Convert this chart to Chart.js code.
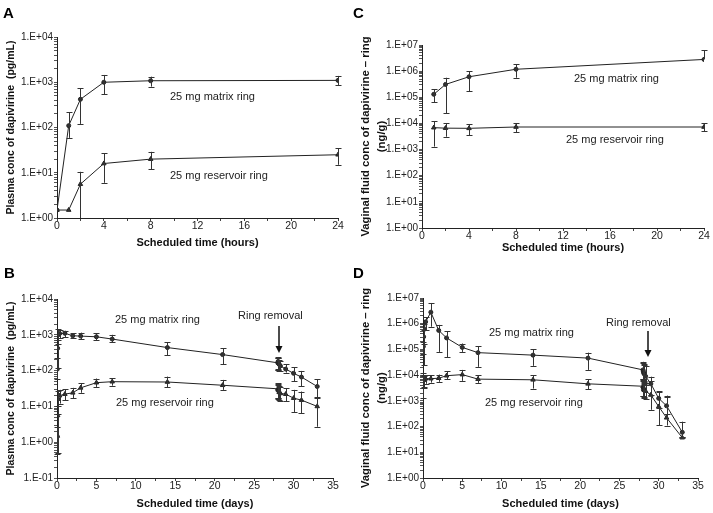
<!DOCTYPE html>
<html>
<head>
<meta charset="utf-8">
<script src="https://cdn.jsdelivr.net/npm/chart.js@4/dist/chart.umd.min.js"></script>
<style>
  body { margin: 0; background: #fff; width: 713px; height: 513px; position: relative; overflow: hidden; }
  canvas { position: absolute; }
  .letter { position: absolute; font: bold 15px 'Liberation Sans', Arial, sans-serif; color: #000; line-height: 15px; }
</style>
</head>
<body>
<canvas id="chartA" width="356" height="255" style="left:0;top:0"></canvas>
<canvas id="chartC" width="357" height="255" style="left:356px;top:0"></canvas>
<canvas id="chartB" width="356" height="258" style="left:0;top:255px"></canvas>
<canvas id="chartD" width="357" height="258" style="left:356px;top:255px"></canvas>
<div class="letter" style="left:3px;top:5px">A</div>
<div class="letter" style="left:353px;top:5px">C</div>
<div class="letter" style="left:4px;top:265px">B</div>
<div class="letter" style="left:353px;top:265px">D</div>
<script>
// ---- Data ----
// A: plasma, first 24 hours
const aHours        = [0, 1, 2, 4, 8, 24];
const aMatrix       = [1.5, 110, 420, 1000, 1080, 1100];
const aMatrixLo     = [1.5, 59, 120, 540, 800, 870];
const aMatrixHi     = [1.5, 220, 730, 1450, 1330, 1380];
const aReservoir    = [1.5, 1.5, 5.6, 16, 20, 25];
const aReservoirLo  = [1.5, 1.5, 0.5, 6, 12, 15];
const aReservoirHi  = [1.5, 1.5, 10.5, 27, 29, 35];

// C: vaginal fluid, first 24 hours
const cHours        = [1, 2, 4, 8, 24];
const cMatrix       = [1.3e5, 3.1e5, 6.1e5, 1.18e6, 2.8e6];
const cMatrixLo     = [6.4e4, 2.4e4, 1.7e5, 5.6e5, 2.8e6];
const cMatrixHi     = [2e5, 5.6e5, 1e6, 1.8e6, 6.4e6];
const cReservoir    = [6900, 6600, 6500, 7300, 7300];
const cReservoirLo  = [1300, 3100, 3600, 4600, 5100];
const cReservoirHi  = [12400, 10000, 9500, 10000, 10000];

// B: plasma, days
const bDays         = [0, 0.042, 0.083, 0.167, 0.333, 1, 2, 3, 5, 7, 14, 21, 28, 28.042, 28.083, 28.167, 28.333, 29, 30, 31, 33];
const bMatrix       = [1.5, 110, 420, 1000, 1080, 1100, 940, 920, 880, 760, 440, 280, 165, 180, 160, 150, 135, 110, 84, 66, 36];
const bMatrixLo     = [1.5, 59, 120, 540, 800, 850, 820, 750, 700, 620, 270, 150, 105, 110, 105, 100, 95, 88, 51, 36, 17];
const bMatrixHi     = [1.5, 220, 730, 1450, 1330, 1300, 1100, 1150, 1100, 1000, 620, 420, 230, 240, 220, 200, 180, 150, 125, 98, 58];
const bReservoir    = [1.5, 1.5, 5.6, 16, 20, 22, 24, 33, 46, 49, 48, 39, 31, 30, 28, 25, 23, 22, 17, 15, 10];
const bReservoirLo  = [0.46, 1.5, 0.5, 6, 12, 15, 17, 24, 35, 38, 34, 29, 17, 17, 16, 15, 14, 14, 7, 6.4, 2.7];
const bReservoirHi  = [2.6, 1.5, 10.5, 27, 29, 30, 33, 44, 60, 62, 68, 55, 44, 43, 40, 38, 34, 32, 29, 26, 18.6];

// D: vaginal fluid, days
const dDays         = [0.042, 0.083, 0.167, 0.333, 1, 2, 3, 5, 7, 14, 21, 28, 28.042, 28.083, 28.167, 28.333, 29, 30, 31, 33];
const dMatrix       = [1.3e5, 3.1e5, 6.1e5, 1.18e6, 2.8e6, 5.5e5, 2.8e5, 1.2e5, 7.5e4, 6e4, 4.6e4, 1.6e4, 1.4e4, 1.2e4, 1.1e4, 9e3, 4.6e3, 1250, 640, 60];
const dMatrixLo     = [6.4e4, 2.4e4, 1.7e5, 5.6e5, 7.6e5, 8e4, 5e4, 8e4, 2.1e4, 2.3e4, 1.6e4, 7e3, 6e3, 5e3, 4.5e3, 4e3, 1700, 540, 300, 40];
const dMatrixHi     = [2e5, 5.6e5, 1e6, 1.8e6, 6.4e6, 9e5, 5e5, 1.7e5, 1.3e5, 1e5, 7.5e4, 3.3e4, 3e4, 2.8e4, 2.5e4, 2.2e4, 8700, 2300, 1600, 155];
const dReservoir    = [6900, 6600, 6500, 7300, 7300, 7600, 9500, 10500, 7000, 6600, 4600, 3700, 3200, 2800, 2600, 2400, 1700, 600, 220, 37];
const dReservoirLo  = [1300, 3100, 3600, 4600, 5100, 5500, 7000, 6000, 5000, 3000, 2800, 1600, 1500, 1400, 1300, 1200, 450, 115, 110, 35];
const dReservoirHi  = [12400, 10000, 9500, 10000, 10000, 10500, 14000, 16000, 10000, 10000, 7000, 7000, 6500, 6000, 5500, 5000, 6000, 2400, 1400, 40];

// tick labels
const yLabelsPlasma  = ['1.E-01', '1.E+00', '1.E+01', '1.E+02', '1.E+03', '1.E+04'];
const yLabelsVaginal = ['1.E+00', '1.E+01', '1.E+02', '1.E+03', '1.E+04', '1.E+05', '1.E+06', '1.E+07'];

const FONT = "'Liberation Sans', Arial, sans-serif";
Chart.defaults.font.family = FONT;
const INK = '#222';

// ---- Plugins ----
const errorBars = {
  id: 'errorBars',
  afterDatasetsDraw(chart) {
    const { ctx, chartArea: a, scales: { x, y } } = chart;
    ctx.save();
    ctx.beginPath();
    ctx.rect(0, a.top - 1, chart.width, a.bottom - a.top + 1);
    ctx.clip();
    ctx.strokeStyle = '#333';
    ctx.lineWidth = 1;
    chart.data.datasets.forEach(ds => {
      ds.data.forEach((p, i) => {
        const lo = ds.errLo[i], hi = ds.errHi[i];
        if (lo === hi) return;
        const px = Math.round(x.getPixelForValue(p.x)) + 0.5;
        const y1 = y.getPixelForValue(lo), y2 = y.getPixelForValue(hi);
        ctx.beginPath();
        ctx.moveTo(px, y1); ctx.lineTo(px, y2);
        if (lo < p.y) { ctx.moveTo(px - 3, Math.round(y1) + 0.5); ctx.lineTo(px + 3, Math.round(y1) + 0.5); }
        if (hi > p.y) { ctx.moveTo(px - 3, Math.round(y2) + 0.5); ctx.lineTo(px + 3, Math.round(y2) + 0.5); }
        ctx.stroke();
      });
    });
    ctx.restore();
  }
};

const notes = {
  id: 'notes',
  afterDraw(chart, args, opts) {
    const ctx = chart.ctx;
    ctx.save();
    ctx.textBaseline = 'middle';
    ctx.textAlign = 'left';
    ctx.fillStyle = INK;
    ctx.font = '11px ' + FONT;
    (opts.items || []).forEach(n => ctx.fillText(n.t, n.x, n.y));
    if (opts.arrow) {
      const ar = opts.arrow;
      ctx.strokeStyle = '#111';
      ctx.fillStyle = '#111';
      ctx.lineWidth = 1.5;
      ctx.beginPath();
      ctx.moveTo(ar.x, ar.y1); ctx.lineTo(ar.x, ar.y2 - 6);
      ctx.stroke();
      ctx.beginPath();
      ctx.moveTo(ar.x - 3.5, ar.y2 - 7); ctx.lineTo(ar.x + 3.5, ar.y2 - 7); ctx.lineTo(ar.x, ar.y2);
      ctx.closePath();
      ctx.fill();
    }
    ctx.restore();
  }
};

function logTicks(min, max) {
  const out = [];
  const e0 = Math.round(Math.log10(min)), e1 = Math.round(Math.log10(max));
  for (let e = e0; e < e1; e++) {
    for (let k = 1; k <= 9; k++) out.push({ value: k * Math.pow(10, e) });
  }
  out.push({ value: max });
  return out;
}

function series(xs, ys, lo, hi, style, r) {
  return {
    data: xs.map((t, i) => ({ x: t, y: ys[i] })),
    errLo: lo, errHi: hi,
    borderColor: INK, borderWidth: 1,
    pointStyle: style, pointRadius: r,
    pointBackgroundColor: '#333', pointBorderColor: INK, pointBorderWidth: 1,
    tension: 0, fill: false
  };
}

function makePanel(id, o) {
  const minExp = Math.round(Math.log10(o.yMin));
  return new Chart(document.getElementById(id), {
    type: 'line',
    data: {
      datasets: [
        series(o.xs, o.m, o.mLo, o.mHi, 'circle', 2),
        series(o.xs, o.r, o.rLo, o.rHi, 'triangle', 2.6)
      ]
    },
    options: {
      responsive: false,
      animation: false,
      layout: { padding: { left: 0, top: o.top, right: o.right, bottom: 0 } },
      plugins: {
        legend: { display: false },
        tooltip: { enabled: false },
        notes: { items: o.notes, arrow: o.arrow }
      },
      scales: {
        x: {
          type: 'linear', min: 0, max: o.xMax,
          afterFit(s) { s.height = o.xH; },
          border: { color: INK, width: 1 },
          grid: { drawOnChartArea: false, tickLength: 3, tickColor: '#444' },
          ticks: {
            stepSize: o.xStep, autoSkip: false, maxRotation: 0, padding: -1,
            color: INK, font: { size: 10.5 },
            callback: v => (v % o.xLabelStep === 0 ? String(v) : '')
          },
          title: {
            display: true, text: o.xTitle, color: '#111',
            font: { size: 11, weight: 'bold' }, padding: { top: 4, bottom: o.xTitlePad }
          }
        },
        y: {
          type: 'logarithmic', min: o.yMin, max: o.yMax,
          afterFit(s) { s.width = o.left; },
          afterBuildTicks(s) { s.ticks = logTicks(o.yMin, o.yMax); },
          border: { color: INK, width: 1 },
          grid: { drawOnChartArea: false, tickLength: 3, tickColor: '#555' },
          ticks: {
            autoSkip: false, padding: 1, color: INK, font: { size: 10 },
            callback: v => {
              const e = Math.log10(v);
              return Math.abs(e - Math.round(e)) < 1e-6 ? o.yLabels[Math.round(e) - minExp] : '';
            }
          },
          title: {
            display: true, text: o.yTitle, color: '#111',
            font: { size: o.yTitleSize, weight: 'bold', lineHeight: 1.4 }, padding: { top: o.yTitlePad, bottom: 0 }
          }
        }
      }
    },
    plugins: [errorBars, notes]
  });
}

const hoursTitle = 'Scheduled time (hours)';
const daysTitle = 'Scheduled time (days)';
const plasmaTitle = 'Plasma conc of dapivirine  (pg/mL)';
const vaginalTitle = ['Vaginal fluid conc of dapivirine \u2013 ring', '(ng/g)'];

makePanel('chartA', {
  xs: aHours, m: aMatrix, mLo: aMatrixLo, mHi: aMatrixHi,
  r: aReservoir, rLo: aReservoirLo, rHi: aReservoirHi,
  xMax: 24, xStep: 2, xLabelStep: 4, xTitle: hoursTitle, xTitlePad: 5,
  yMin: 1, yMax: 1e4, yLabels: yLabelsPlasma.slice(1), yTitle: plasmaTitle, yTitleSize: 10.5, yTitlePad: 4,
  left: 57, top: 37, right: 18, xH: 37,
  notes: [
    { t: '25 mg matrix ring', x: 170, y: 97 },
    { t: '25 mg reservoir ring', x: 170, y: 176 }
  ]
});

makePanel('chartC', {
  xs: cHours, m: cMatrix, mLo: cMatrixLo, mHi: cMatrixHi,
  r: cReservoir, rLo: cReservoirLo, rHi: cReservoirHi,
  xMax: 24, xStep: 2, xLabelStep: 4, xTitle: hoursTitle, xTitlePad: 0,
  yMin: 1, yMax: 1e7, yLabels: yLabelsVaginal, yTitle: vaginalTitle, yTitleSize: 11.3, yTitlePad: 2,
  left: 66, top: 45, right: 9, xH: 27,
  notes: [
    { t: '25 mg matrix ring', x: 218, y: 79 },
    { t: '25 mg reservoir ring', x: 210, y: 140 }
  ]
});

makePanel('chartB', {
  xs: bDays, m: bMatrix, mLo: bMatrixLo, mHi: bMatrixHi,
  r: bReservoir, rLo: bReservoirLo, rHi: bReservoirHi,
  xMax: 35, xStep: 2.5, xLabelStep: 5, xTitle: daysTitle, xTitlePad: 2,
  yMin: 0.1, yMax: 1e4, yLabels: yLabelsPlasma, yTitle: plasmaTitle, yTitleSize: 10.5, yTitlePad: 4,
  left: 57, top: 44, right: 23, xH: 35,
  notes: [
    { t: '25 mg matrix ring', x: 115, y: 65 },
    { t: '25 mg reservoir ring', x: 116, y: 148 },
    { t: 'Ring removal', x: 238, y: 61 }
  ],
  arrow: { x: 279, y1: 71, y2: 98 }
});

makePanel('chartD', {
  xs: dDays, m: dMatrix, mLo: dMatrixLo, mHi: dMatrixHi,
  r: dReservoir, rLo: dReservoirLo, rHi: dReservoirHi,
  xMax: 35, xStep: 2.5, xLabelStep: 5, xTitle: daysTitle, xTitlePad: 2,
  yMin: 1, yMax: 1e7, yLabels: yLabelsVaginal, yTitle: vaginalTitle, yTitleSize: 11.3, yTitlePad: 2,
  left: 67, top: 43, right: 15, xH: 35,
  notes: [
    { t: '25 mg matrix ring', x: 133, y: 78 },
    { t: '25 mg reservoir ring', x: 129, y: 148 },
    { t: 'Ring removal', x: 250, y: 68 }
  ],
  arrow: { x: 292, y1: 76, y2: 102 }
});
</script>
</body>
</html>
